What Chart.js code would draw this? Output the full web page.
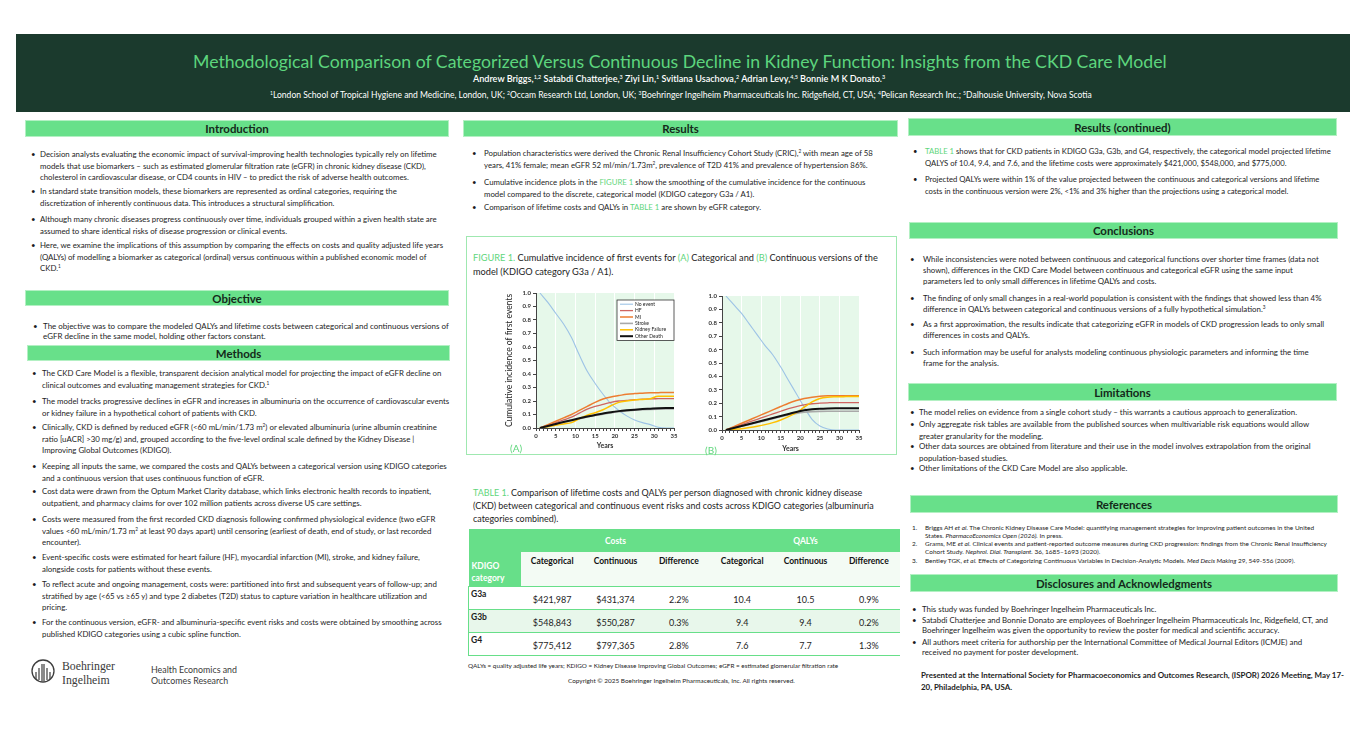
<!DOCTYPE html>
<html>
<head>
<meta charset="utf-8">
<script src="https://cdn.jsdelivr.net/npm/chart.js"></script>
<style>
  html, body { margin: 0; padding: 0; background: #fff; }
  body { width: 1366px; height: 752px; position: relative; overflow: hidden; font-family: Lato, "Open Sans", sans-serif; color: #1d1d1d; }
  .txt { position: absolute; white-space: nowrap; font-size: 8px; }
  .txt .bul { position: absolute; top: 0; }
  sup { font-size: 0.6em; line-height: 0; vertical-align: 0.6em; }
  .g { color: #5fd67c; }
  .bar { position: absolute; background: #68e08a; border: 1px solid #b3f0c3; box-sizing: border-box; display: flex; align-items: center; justify-content: center; }
  .bar span { font-weight: bold; color: #14291a; white-space: nowrap; font-size: 11px; }
  #header { position: absolute; left: 16px; top: 34px; width: 1334px; height: 78px; background: #1b3a2d; }
  .wrap { position: absolute; }
  #figbox { position: absolute; left: 466px; top: 236px; width: 431px; height: 219px; border: 1px solid #9fe8b0; box-sizing: border-box; }
  #tbl { position: absolute; left: 468px; top: 529px; width: 432px; border-collapse: collapse; table-layout: fixed; font-size: 8.5px; }
  #tbl td { padding: 0; text-align: center; }
  #tbl tr.h1 { height: 23px; }
  #tbl tr.h2 { height: 34px; }
  #tbl tr.row { height: 23px; }
  #tbl tr.h1 td { background: #67df89; color: #fff; font-weight: bold; font-size: 8.5px; }
  #tbl tr.h2 td { background: #f3fbf4; font-weight: bold; vertical-align: top; padding-top: 4px; color: #111; }
  #tbl td.k { background: #67df89 !important; color: #fff !important; text-align: left; vertical-align: bottom; padding: 0 0 2px 3px; font-size: 9px; line-height: 12px; }
  #tbl tr.row td { border-top: 1.5px solid #67df89; font-size: 9px; vertical-align: middle; padding-top: 3px; line-height: 11px; }
  #tbl tr.row td.lab { text-align: left; vertical-align: top; font-weight: bold; padding: 2px 0 0 2px; border-left: 1.5px solid #67df89; font-size: 8.5px; }
  #tbl tr.row.alt td { background: #e8f7eb; }
  #tbl tr.last td { border-bottom: 1.5px solid #67df89; }
</style>
</head>
<body>
<div id="header"></div>
<div id="figbox"></div>
<div class="wrap" style="left:500px;top:285px;width:186px;height:170px;"><canvas id="chartA"></canvas></div>
<div class="wrap" style="left:686px;top:288px;width:186px;height:169px;"><canvas id="chartB"></canvas></div>
<table id="tbl"></table>
<svg style="position:absolute;left:30px;top:657px" width="28" height="30">
  <circle cx="13" cy="14" r="11" fill="none" stroke="#3d3d3d" stroke-width="1.3"/>
  <path d="M6 22V15M9 23V11M12 24V7M14 24V7M17 23V11M20 22V15" stroke="#3d3d3d" stroke-width="1.2"/>
</svg>

<script>
// years read at two-year steps; cumulative incidence of first events
const years = [1, 3, 5, 7, 9, 11, 13, 15, 17, 19, 21, 23, 25, 27, 29, 31, 33, 35];
const seriesNames = ['No event', 'HF', 'MI', 'Stroke', 'Kidney Failure', 'Other Death'];
const seriesColors = ['#9dc3e6', '#cf6560', '#ed7d31', '#a9a9a9', '#ffc000', '#111111'];

// (A) categorical
const catNoEvent = [1.0, 0.93, 0.85, 0.77, 0.67, 0.54, 0.42, 0.33, 0.25, 0.18, 0.13, 0.09, 0.06, 0.04, 0.025, 0.005, 0.0, 0.0];
const catHF      = [0, 0.02, 0.04, 0.06, 0.08, 0.11, 0.14, 0.16, 0.175, 0.19, 0.2, 0.205, 0.21, 0.213, 0.216, 0.217, 0.218, 0.218];
const catMI      = [0, 0.025, 0.05, 0.075, 0.10, 0.13, 0.16, 0.19, 0.215, 0.23, 0.24, 0.25, 0.255, 0.258, 0.261, 0.262, 0.263, 0.263];
const catStroke  = [0, 0.014, 0.028, 0.042, 0.055, 0.068, 0.081, 0.092, 0.102, 0.112, 0.12, 0.126, 0.131, 0.135, 0.138, 0.14, 0.141, 0.142];
const catKidney  = [0, 0.01, 0.02, 0.03, 0.04, 0.07, 0.095, 0.113, 0.135, 0.165, 0.19, 0.2, 0.207, 0.212, 0.217, 0.235, 0.235, 0.235];
const catDeath   = [0, 0.015, 0.03, 0.045, 0.058, 0.072, 0.085, 0.097, 0.107, 0.117, 0.125, 0.131, 0.136, 0.14, 0.143, 0.146, 0.148, 0.149];

// (B) continuous
const conNoEvent = [1.0, 0.935, 0.87, 0.79, 0.71, 0.63, 0.56, 0.47, 0.37, 0.27, 0.17, 0.08, 0.03, 0.008, 0.0, 0.0, 0.0, 0.0];
const conHF      = [0, 0.02, 0.04, 0.06, 0.08, 0.10, 0.12, 0.14, 0.16, 0.175, 0.188, 0.196, 0.2, 0.203, 0.205, 0.205, 0.205, 0.205];
const conMI      = [0, 0.025, 0.05, 0.075, 0.10, 0.125, 0.15, 0.175, 0.20, 0.22, 0.235, 0.245, 0.252, 0.255, 0.256, 0.256, 0.256, 0.256];
const conStroke  = [0, 0.014, 0.028, 0.042, 0.056, 0.07, 0.085, 0.1, 0.113, 0.124, 0.132, 0.137, 0.139, 0.14, 0.14, 0.14, 0.14, 0.14];
const conKidney  = [0, 0.005, 0.01, 0.018, 0.028, 0.04, 0.055, 0.075, 0.10, 0.13, 0.17, 0.21, 0.235, 0.245, 0.248, 0.249, 0.25, 0.25];
const conDeath   = [0, 0.015, 0.03, 0.045, 0.06, 0.075, 0.09, 0.105, 0.12, 0.135, 0.147, 0.155, 0.159, 0.161, 0.162, 0.162, 0.162, 0.162];

const yTicks = [0, 0.1, 0.2, 0.3, 0.4, 0.5, 0.6, 0.7, 0.8, 0.9, 1.0];

// table 1
const tableCats   = ['G3a', 'G3b', 'G4'];
const costCat     = ['$421,987', '$548,843', '$775,412'];
const costCon     = ['$431,374', '$550,287', '$797,365'];
const costDiff    = ['2.2%', '0.3%', '2.8%'];
const qalyCat     = ['10.4', '9.4', '7.6'];
const qalyCon     = ['10.5', '9.4', '7.7'];
const qalyDiff    = ['0.9%', '0.2%', '1.3%'];

// ---------- poster text ----------
const page = document.body;

function block(x, yc, lh, lines, bullet, bulletX, cls) {
  const d = document.createElement('div');
  d.className = 'txt' + (cls ? ' ' + cls : '');
  d.style.left = x + 'px';
  d.style.top = (yc - lh / 2) + 'px';
  d.style.lineHeight = lh + 'px';
  d.innerHTML = lines.join('<br>');
  if (bullet) {
    const b = document.createElement('span');
    b.className = 'bul';
    b.innerHTML = bullet;
    b.style.left = (bulletX - x) + 'px';
    d.appendChild(b);
  }
  page.appendChild(d);
  return d;
}

function bar(x1, x2, y1, y2, text) {
  const d = document.createElement('div');
  d.className = 'bar';
  Object.assign(d.style, { left: x1 + 'px', top: y1 + 'px', width: (x2 - x1) + 'px', height: (y2 - y1) + 'px' });
  d.innerHTML = '<span>' + text + '</span>';
  page.appendChild(d);
  return d.firstChild;
}

function fitTo(el, target) {
  for (let k = 0; k < 3; k++) {
    const w = el.getBoundingClientRect().width;
    if (!w) break;
    const fs = parseFloat(getComputedStyle(el).fontSize);
    el.style.fontSize = (fs * target / w) + 'px';
  }
  return parseFloat(el.style.fontSize);
}

function group(x, bx, lh, items, bullet) {
  return items.map(([y, lines]) => block(x, y, lh, lines, bullet === undefined ? '•' : bullet, bx));
}

function fitGroup(els, ref, target) {
  const fs = fitTo(ref, target);
  els.forEach(e => { e.style.fontSize = fs + 'px'; });
}

// header
const title = block(193, 62, 20, ['Methodological Comparison of Categorized Versus Continuous Decline in Kidney Function: Insights from the CKD Care Model']);
title.style.color = '#5dd57d';
const authors = block(473, 79, 10, ['Andrew Briggs,<sup>1,2</sup> Satabdi Chatterjee,<sup>3</sup> Ziyi Lin,<sup>1</sup> Svitlana Usachova,<sup>2</sup> Adrian Levy,<sup>4,5</sup> Bonnie M K Donato.<sup>3</sup>']);
authors.style.color = '#fff'; authors.style.fontWeight = '600';
const affils = block(270, 95, 10, ['<sup>1</sup>London School of Tropical Hygiene and Medicine, London, UK; <sup>2</sup>Occam Research Ltd, London, UK; <sup>3</sup>Boehringer Ingelheim Pharmaceuticals Inc. Ridgefield, CT, USA; <sup>4</sup>Pelican Research Inc.; <sup>5</sup>Dalhousie University, Nova Scotia']);
affils.style.color = '#fff';

// section bars
const barTitles = [
  bar(25, 449, 120, 137, 'Introduction'),
  bar(25, 449, 290, 306, 'Objective'),
  bar(27, 450, 345, 361, 'Methods'),
  bar(463, 898, 120, 137, 'Results'),
  bar(908, 1337, 118, 136, 'Results (continued)'),
  bar(909, 1338, 222, 239, 'Conclusions'),
  bar(908, 1337, 383, 401, 'Limitations'),
  bar(910, 1338, 495, 513, 'References'),
  bar(910, 1338, 574, 592, 'Disclosures and Acknowledgments')
];

// column 1
const intro = group(40, 31, 11.2, [
  [155, ['Decision analysts evaluating the economic impact of survival-improving health technologies typically rely on lifetime',
         'models that use biomarkers – such as estimated glomerular filtration rate (eGFR) in chronic kidney disease (CKD),',
         'cholesterol in cardiovascular disease, or CD4 counts in HIV – to predict the risk of adverse health outcomes.']],
  [192, ['In standard state transition models, these biomarkers are represented as ordinal categories, requiring the',
         'discretization of inherently continuous data. This introduces a structural simplification.']],
  [220, ['Although many chronic diseases progress continuously over time, individuals grouped within a given health state are',
         'assumed to share identical risks of disease progression or clinical events.']],
  [246, ['Here, we examine the implications of this assumption by comparing the effects on costs and quality adjusted life years',
         '(QALYs) of modelling a biomarker as categorical (ordinal) versus continuous within a published economic model of',
         'CKD.<sup>1</sup>']]
]);
const objective = group(43, 33, 10.5, [
  [326, ['The objective was to compare the modeled QALYs and lifetime costs between categorical and continuous versions of',
         'eGFR decline in the same model, holding other factors constant.']]
]);
const methods = group(42, 32, 11.3, [
  [374, ['The CKD Care Model is a flexible, transparent  decision analytical model for projecting the impact of eGFR decline on',
         'clinical outcomes and evaluating management strategies for CKD.<sup>1</sup>']],
  [402, ['The model tracks progressive declines in eGFR and increases in albuminuria on the occurrence of cardiovascular events',
         'or kidney failure in a hypothetical cohort of patients with CKD.']],
  [428, ['Clinically, CKD is defined by reduced eGFR (&lt;60 mL/min/1.73 m<sup>2</sup>) or elevated albuminuria (urine albumin creatinine',
         'ratio [uACR] &gt;30 mg/g) and, grouped according to the five-level ordinal scale defined by the Kidney Disease |',
         'Improving Global Outcomes (KDIGO).']],
  [467, ['Keeping all inputs the same, we compared the costs and QALYs between a categorical version using KDIGO categories',
         'and a continuous version that uses continuous function of eGFR.']],
  [492, ['Cost data were drawn from the Optum Market Clarity database, which links electronic health records to inpatient,',
         'outpatient, and pharmacy claims for over 102 million patients across diverse US care settings.']],
  [520, ['Costs were measured from the first recorded CKD diagnosis following confirmed physiological evidence (two eGFR',
         'values &lt;60 mL/min/1.73 m<sup>2</sup> at least 90 days apart) until censoring (earliest of death, end of study, or last recorded',
         'encounter).']],
  [558, ['Event-specific costs were estimated for heart failure (HF), myocardial infarction (MI), stroke, and kidney failure,',
         'alongside costs for patients without these events.']],
  [585, ['To reflect acute and ongoing management, costs were: partitioned into first and subsequent years of follow-up; and',
         'stratified by age (&lt;65 vs ≥65 y) and type 2 diabetes (T2D) status to capture variation in healthcare utilization and',
         'pricing.']],
  [623, ['For the continuous version, eGFR- and albuminuria-specific event risks and costs were obtained by smoothing across',
         'published KDIGO categories using a cubic spline function.']]
]);
const logo1 = block(62, 666, 13, ['Boehringer']);
const logo2 = block(62, 680, 13, ['Ingelheim']);
[logo1, logo2].forEach(e => { e.style.fontFamily = '"Liberation Serif", "DejaVu Serif", serif'; e.style.color = '#3a3a3a'; });
const heor = block(151, 669.5, 11, ['Health Economics and', 'Outcomes Research']);
heor.style.color = '#3a3a3a';

// column 2
const results = group(484, 472, 11.6, [
  [154, ['Population characteristics were derived the Chronic Renal Insufficiency Cohort Study (CRIC),<sup>2</sup> with mean age of 58',
         'years, 41% female; mean eGFR 52 ml/min/1.73m<sup>2</sup>, prevalence of T2D 41% and prevalence of hypertension 86%.']],
  [183, ['Cumulative incidence plots in the <span class="g">FIGURE 1</span>  show the smoothing of the cumulative incidence for the continuous',
         'model compared to the discrete, categorical model (KDIGO category G3a / A1).']],
  [208, ['Comparison of lifetime costs and QALYs in <span class="g">TABLE 1</span> are shown by eGFR category.']]
]);
const figcap = block(473, 258, 13.5, ['<span class="g">FIGURE 1.</span> Cumulative incidence of first events for <span class="g">(A)</span> Categorical and <span class="g">(B)</span> Continuous versions of the',
  'model (KDIGO category G3a / A1).']);
const labA = block(510, 448, 12, ['(A)']); labA.className += ' g'; labA.style.fontSize = '10px';
const labB = block(705, 450, 12, ['(B)']); labB.className += ' g'; labB.style.fontSize = '10px';
const tabcap = block(473, 492, 13, ['<span class="g">TABLE 1.</span> Comparison of lifetime costs and QALYs per person diagnosed with chronic kidney disease',
  '(CKD) between categorical and continuous event risks and costs across KDIGO categories (albuminuria',
  'categories combined).']);
const footnote = block(468, 666, 8, ['QALYs = quality adjusted life years; KDIGO = Kidney Disease Improving Global Outcomes; eGFR = estimated glomerular filtration rate']);
const copyright = block(568, 681, 8, ['Copyright © 2025 Boehringer Ingelheim Pharmaceuticals, Inc. All rights reserved.']);

// column 3
const resCont = group(925, 913, 11.8, [
  [152, ['<span class="g">TABLE 1</span> shows that for CKD patients in KDIGO G3a, G3b, and G4, respectively, the categorical model projected lifetime',
         'QALYS of 10.4, 9.4, and 7.6, and the lifetime costs were approximately $421,000, $548,000, and $775,000.']],
  [180, ['Projected QALYs were within 1% of the value projected between the continuous and categorical versions and lifetime',
         'costs in the continuous version were 2%, &lt;1% and 3% higher than the projections using a categorical model.']]
]);
const concl = group(923, 910, 11, [
  [259, ['While inconsistencies were noted between continuous and categorical functions over shorter time frames (data not',
         'shown), differences in the CKD Care Model between continuous and categorical eGFR using the same input',
         'parameters led to only small differences in lifetime QALYs and costs.']],
  [298, ['The finding of only small changes in a real-world population is consistent with the findings that showed less than 4%',
         'difference in QALYs between categorical and continuous versions of a fully hypothetical simulation.<sup>3</sup>']],
  [324, ['As a first approximation, the results indicate that categorizing eGFR in models of CKD progression leads to only small',
         'differences in costs and QALYs.']],
  [352, ['Such information may be useful for analysts modeling continuous physiologic parameters and informing the time',
         'frame for the analysis.']]
]);
const limits = group(919, 910, 11.3, [
  [413, ['The model relies on evidence from a single cohort study – this warrants a cautious approach to generalization.']],
  [425, ['Only aggregate risk tables are available from the published sources when multivariable risk equations would allow',
         'greater granularity for the modeling.']],
  [447, ['Other data sources are obtained from literature and their use in the model involves extrapolation from the original',
         'population-based studies.']],
  [469, ['Other limitations of the CKD Care Model are also applicable.']]
]);
const refs = [
  block(925, 528, 8, ['Briggs AH <i>et al.</i> The Chronic Kidney Disease Care Model: quantifying management strategies for improving patient outcomes in the United',
    'States.  <i>PharmacoEconomics Open (2026).</i>  In press.'], '1.', 912),
  block(925, 544, 8, ['Grams, ME <i>et al.</i> Clinical events and patient-reported outcome measures during CKD progression: findings from the Chronic Renal Insufficiency',
    'Cohort Study. <i>Nephrol. Dial. Transplant.</i> 36, 1685–1693 (2020).'], '2.', 912),
  block(925, 561, 8, ['Bentley TGK, <i>et al.</i> Effects of Categorizing Continuous Variables in Decision-Analytic Models. <i>Med Decis Making</i> 29, 549-556 (2009).'], '3.', 912)
];
const discl = group(922, 912, 10.8, [
  [609, ['This study was funded by Boehringer Ingelheim Pharmaceuticals Inc.']],
  [620, ['Satabdi Chatterjee and Bonnie Donato are employees of Boehringer Ingelheim Pharmaceuticals Inc, Ridgefield, CT, and',
         'Boehringer Ingelheim was given the opportunity to review the poster for medical and scientific accuracy.']],
  [642, ['All authors meet criteria for authorship per the International Committee of Medical Journal Editors (ICMJE) and',
         'received no payment for poster development.']]
]);
const presented = block(921, 675, 12, ['Presented at the International Society for Pharmacoeconomics and Outcomes Research, (ISPOR) 2026 Meeting,  May 17-',
  '20, Philadelphia, PA, USA.']);
presented.style.fontWeight = 'bold';

// table
const tbl = document.getElementById('tbl');
let html = '<colgroup><col style="width:52px">' + '<col style="width:63.33px">'.repeat(6) + '</colgroup>';
html += '<tr class="h1"><td class="k" rowspan="2">KDIGO<br>category</td><td colspan="3">Costs</td><td colspan="3">QALYs</td></tr>';
html += '<tr class="h2">' + ['Categorical', 'Continuous', 'Difference', 'Categorical', 'Continuous', 'Difference'].map(t => '<td>' + t + '</td>').join('') + '</tr>';
tableCats.forEach((c, i) => {
  const cls = 'row' + (i % 2 ? ' alt' : '') + (i === tableCats.length - 1 ? ' last' : '');
  html += '<tr class="' + cls + '"><td class="lab">' + c + '</td>' +
    [costCat[i], costCon[i], costDiff[i], qalyCat[i], qalyCon[i], qalyDiff[i]].map(v => '<td>' + v + '</td>').join('') + '</tr>';
});
tbl.innerHTML = html;

// fit text widths to the poster
fitTo(title, 973);
fitTo(authors, 413);
fitTo(affils, 823);
fitGroup(barTitles, barTitles[8], 176);
fitGroup(intro, intro[0], 397);
fitGroup(objective, objective[0], 405);
fitGroup(methods, methods[0], 399);
fitTo(logo1, 53); logo2.style.fontSize = logo1.style.fontSize;
fitTo(heor, 86);
fitGroup(results, results[0], 389);
fitTo(figcap, 405);
fitTo(tabcap, 400);
fitTo(footnote, 370);
fitTo(copyright, 227);
fitGroup(resCont, resCont[0], 405);
fitGroup(concl, concl[0], 396);
fitGroup(limits, limits[1], 390);
fitGroup(refs, refs[1], 401);
fitGroup(discl, discl[1], 406);
fitTo(presented, 423);

// ---------- charts ----------
const plotBg = {
  id: 'plotBg',
  beforeDraw(chart) {
    const { ctx, chartArea: a } = chart;
    ctx.save();
    ctx.fillStyle = '#e6f8ea';
    ctx.fillRect(a.left, a.top, a.right - a.left, a.bottom - a.top);
    ctx.restore();
  }
};

const boxLegend = {
  id: 'boxLegend',
  afterDatasetsDraw(chart, args, opts) {
    if (!opts.show) return;
    const { ctx, chartArea: a } = chart;
    const items = chart.data.datasets.slice().sort((p, q) => p.legendOrder - q.legendOrder);
    const w = 57, rowH = 6.4, h = items.length * rowH + 2;
    const x = a.right - w, y = a.top + 7;
    ctx.save();
    ctx.fillStyle = '#fff';
    ctx.fillRect(x, y, w, h);
    ctx.strokeStyle = '#333';
    ctx.lineWidth = 0.8;
    ctx.strokeRect(x, y, w, h);
    ctx.font = '5px Lato';
    ctx.textBaseline = 'middle';
    items.forEach((ds, i) => {
      const yy = y + 1 + rowH * (i + 0.5);
      ctx.strokeStyle = ds.borderColor;
      ctx.lineWidth = ds.borderWidth;
      ctx.beginPath();
      ctx.moveTo(x + 3, yy);
      ctx.lineTo(x + 16, yy);
      ctx.stroke();
      ctx.fillStyle = '#222';
      ctx.fillText(ds.label, x + 18, yy);
    });
    ctx.restore();
  }
};

function makeChart(id, series, opts) {
  const widths = [1.1, 1.3, 1.5, 1.6, 1.5, 2];
  // draw order: black on top, blue under the rest
  const order = [5, 3, 2, 4, 1, 0];
  const datasets = series.map((vals, i) => ({
    label: seriesNames[i],
    data: years.map((yr, j) => ({ x: yr, y: vals[j] })),
    borderColor: seriesColors[i],
    borderWidth: widths[i],
    pointRadius: 0,
    cubicInterpolationMode: 'monotone',
    fill: false,
    order: order[i],
    legendOrder: i
  }));

  return new Chart(document.getElementById(id), {
    type: 'line',
    data: { datasets },
    plugins: [plotBg, boxLegend],
    options: {
      responsive: true,
      maintainAspectRatio: false,
      animation: false,
      layout: { padding: { top: 8, right: opts.padRight, left: 0, bottom: 0 } },
      plugins: {
        legend: { display: false },
        tooltip: { enabled: false },
        boxLegend: { show: opts.legend }
      },
      scales: {
        x: {
          type: 'linear', min: 0, max: 35,
          ticks: {
            stepSize: 1, autoSkip: false, maxRotation: 0, padding: 1,
            font: { family: 'Lato', size: 6, weight: 'bold' }, color: '#333',
            callback: v => (v % 5 === 0 ? v : '')
          },
          grid: {
            color: c => (c.tick && c.tick.value % 5 === 0 && c.tick.value > 0 ? '#ffffff' : 'rgba(0,0,0,0)'),
            tickColor: '#444', tickLength: 3, lineWidth: 1
          },
          border: { color: '#444', width: 1 },
          title: { display: true, text: 'Years', color: '#333', font: { family: 'Lato', size: 7, weight: 'bold' }, padding: { top: 0, bottom: opts.yearsPad } },
          afterFit: s => { s.height = 27; }
        },
        y: {
          min: 0, max: 1,
          afterBuildTicks: s => { s.ticks = yTicks.map(v => ({ value: v })); },
          ticks: {
            padding: 2, font: { family: 'Lato', size: 6, weight: 'bold' }, color: '#333',
            callback: v => v.toFixed(1)
          },
          grid: { drawOnChartArea: false, tickLength: 3, tickColor: '#444' },
          border: { color: '#444', width: 1 },
          title: {
            display: opts.yTitle, text: 'Cumulative incidence of first events', color: '#222',
            font: { family: 'Lato', size: 8.5 }, padding: { top: 4, bottom: 0 }
          },
          afterFit: s => { s.width = 36; }
        }
      }
    }
  });
}

makeChart('chartA', [catNoEvent, catHF, catMI, catStroke, catKidney, catDeath], { legend: true, yTitle: true, padRight: 12, yearsPad: 5 });
makeChart('chartB', [conNoEvent, conHF, conMI, conStroke, conKidney, conDeath], { legend: false, yTitle: false, padRight: 13, yearsPad: 4 });
</script>
</body>
</html>
